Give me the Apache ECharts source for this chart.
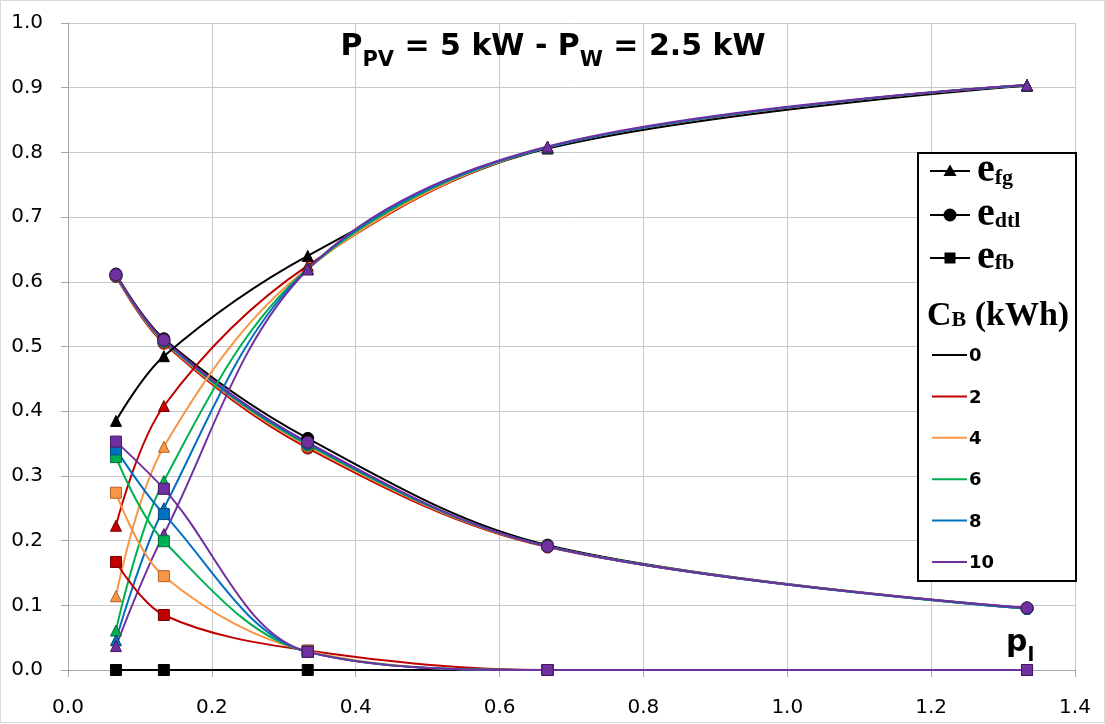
<!DOCTYPE html>
<html><head><meta charset="utf-8">
<script src="https://cdn.jsdelivr.net/npm/echarts@6/dist/echarts.min.js"></script>
<style>html,body{margin:0;padding:0;background:#fff}#c{width:1105px;height:724px}</style>
</head><body><div id="c"></div>
<script>
// ---- data ----
const pl = [0.0667, 0.1333, 0.3333, 0.6667, 1.3333];
const cbLabels = ['0', '2', '4', '6', '8', '10'];
// rows: CB = 0, 2, 4, 6, 8, 10
const efg = [
  [0.385, 0.485, 0.640, 0.806, 0.903],
  [0.223, 0.408, 0.625, 0.808, 0.904],
  [0.114, 0.345, 0.621, 0.808, 0.904],
  [0.061, 0.292, 0.620, 0.808, 0.904],
  [0.046, 0.250, 0.620, 0.808, 0.904],
  [0.037, 0.210, 0.619, 0.809, 0.904]
];
const edtl = [
  [0.612, 0.512, 0.358, 0.193, 0.096],
  [0.608, 0.505, 0.343, 0.190, 0.095],
  [0.609, 0.507, 0.346, 0.191, 0.095],
  [0.610, 0.508, 0.348, 0.191, 0.095],
  [0.610, 0.509, 0.350, 0.191, 0.095],
  [0.611, 0.510, 0.352, 0.191, 0.096]
];
const efb = [
  [0.000, 0.000, 0.000, 0.000, 0.000],
  [0.167, 0.085, 0.030, 0.000, 0.000],
  [0.274, 0.145, 0.029, 0.000, 0.000],
  [0.329, 0.199, 0.028, 0.000, 0.000],
  [0.341, 0.241, 0.028, 0.000, 0.000],
  [0.353, 0.280, 0.028, 0.000, 0.000]
];

// ---- styles ----
const colors = ['#000000', '#c00000', '#f79646', '#00b050', '#0070c0', '#7030a0'];
const borders = ['#000000', '#7a0000', '#b5611d', '#00703a', '#004a80', '#45195f'];

const chart = echarts.init(document.getElementById('c'), null, {renderer: 'canvas'});

function mk(name, vals, ci, symbol, size) {
  return {
    type: 'line', name: name,
    data: pl.map((x, i) => [x, vals[i]]),
    smooth: 0.35,
    symbol: symbol, symbolSize: size, showSymbol: true,
    lineStyle: {color: colors[ci], width: 2},
    itemStyle: {color: colors[ci], borderColor: borders[ci], borderWidth: 1},
    emphasis: {disabled: true},
    animation: false
  };
}
const series = [];
for (let i = 0; i < cbLabels.length; i++) series.push(mk('edtl CB' + cbLabels[i], edtl[i], i, 'circle', 12));
for (let i = 0; i < cbLabels.length; i++) series.push(mk('efg CB' + cbLabels[i], efg[i], i, 'triangle', 11));
for (let i = 0; i < cbLabels.length; i++) series.push(mk('efb CB' + cbLabels[i], efb[i], i, 'rect', 11));

// ---- text layout helpers ----
const mctx = document.createElement('canvas').getContext('2d');
function tw(text, font) { mctx.font = font; return mctx.measureText(text).width; }
function seq(pieces, x0, z) {
  const out = [];
  let x = x0;
  pieces.forEach(p => {
    out.push({type: 'text', z: z || 100, style: {text: p.t, x: x, y: p.y, font: p.f, fill: p.c || '#000', align: 'left', verticalAlign: 'middle'}});
    x += tw(p.t, p.f);
  });
  return {els: out, width: x - x0};
}

const TB = 'bold 30px "DejaVu Sans"', TS = 'bold 21px "DejaVu Sans"';
const titlePieces = [
  {t: 'P', f: TB, y: 47}, {t: 'PV', f: TS, y: 60.5},
  {t: ' = 5 kW - P', f: TB, y: 47}, {t: 'W', f: TS, y: 60.5},
  {t: ' = 2.5 kW', f: TB, y: 47}
];
const tmp = seq(titlePieces, 0);
const title = seq(titlePieces, 553 - tmp.width / 2);

const SE = 'bold 40px "Liberation Serif"', SS = 'bold 22px "Liberation Serif"';
const graphics = [];
graphics.push({type: 'rect', z: 90, shape: {x: 0.5, y: 0.5, width: 1104, height: 722}, style: {fill: 'none', stroke: '#d9d9d9', lineWidth: 1}});
title.els.forEach(e => graphics.push(e));

// axis name p_l
seq([{t: 'p', f: 'bold 30px "DejaVu Sans"', y: 643}, {t: 'l', f: 'bold 20px "DejaVu Sans"', y: 656}], 1006).els.forEach(e => graphics.push(e));

// legend box
graphics.push({type: 'rect', z: 100, shape: {x: 918, y: 153, width: 158, height: 428}, style: {fill: '#fff', stroke: '#000', lineWidth: 2}});
const mRows = [
  {y: 171, sub: 'fg', ey: 171, sy: 178.5, mk: 'tri'},
  {y: 215, sub: 'dtl', ey: 215, sy: 221.5, mk: 'cir'},
  {y: 258, sub: 'fb', ey: 258, sy: 263.5, mk: 'sq'}
];
mRows.forEach(r => {
  graphics.push({type: 'line', z: 101, shape: {x1: 930, y1: r.y, x2: 970, y2: r.y}, style: {stroke: '#000', lineWidth: 2}});
  if (r.mk === 'tri') graphics.push({type: 'polygon', z: 102, shape: {points: [[950, r.y - 6.5], [956.5, r.y + 5], [943.5, r.y + 5]]}, style: {fill: '#000'}});
  if (r.mk === 'cir') graphics.push({type: 'circle', z: 102, shape: {cx: 950, cy: r.y, r: 6.5}, style: {fill: '#000'}});
  if (r.mk === 'sq') graphics.push({type: 'rect', z: 102, shape: {x: 944.5, y: r.y - 5.5, width: 11, height: 11}, style: {fill: '#000'}});
  seq([{t: 'e', f: SE, y: r.ey}, {t: r.sub, f: SS, y: r.sy}], 977, 102).els.forEach(e => graphics.push(e));
});
seq([{t: 'C', f: 'bold 34px "Liberation Serif"', y: 316}, {t: 'B', f: 'bold 22px "Liberation Serif"', y: 320}, {t: ' (kWh)', f: 'bold 34px "Liberation Serif"', y: 316}], 927, 102).els.forEach(e => graphics.push(e));
cbLabels.forEach((lab, i) => {
  const y = 355 + i * 41.4;
  graphics.push({type: 'line', z: 101, shape: {x1: 932, y1: y, x2: 967, y2: y}, style: {stroke: colors[i], lineWidth: 2}});
  graphics.push({type: 'text', z: 102, style: {text: lab, x: 969, y: y + 1.5, font: 'bold 18px "DejaVu Sans"', fill: '#000', align: 'left', verticalAlign: 'middle'}});
});

const axisFont = {fontFamily: '"DejaVu Sans"', fontSize: 20, color: '#000'};
chart.setOption({
  animation: false,
  backgroundColor: '#fff',
  grid: {left: 68, right: 30, top: 23, bottom: 54, containLabel: false},
  xAxis: {
    type: 'value', min: 0, max: 1.4, interval: 0.2,
    axisLine: {show: true, onZero: false, lineStyle: {color: '#a6a6a6', width: 1}},
    axisTick: {show: true, inside: false, length: 7, lineStyle: {color: '#a6a6a6'}},
    axisLabel: Object.assign({margin: 28, formatter: v => v.toFixed(1)}, axisFont),
    splitLine: {show: true, lineStyle: {color: '#c8c8c8', width: 1}}
  },
  yAxis: {
    type: 'value', min: 0, max: 1.0, interval: 0.1,
    axisLine: {show: true, lineStyle: {color: '#a6a6a6', width: 1}},
    axisTick: {show: true, inside: false, length: 7, lineStyle: {color: '#a6a6a6'}},
    axisLabel: Object.assign({margin: 25, formatter: v => v.toFixed(1)}, axisFont),
    splitLine: {show: true, lineStyle: {color: '#c8c8c8', width: 1}}
  },
  series: series,
  graphic: graphics
});
</script>
</body></html>
